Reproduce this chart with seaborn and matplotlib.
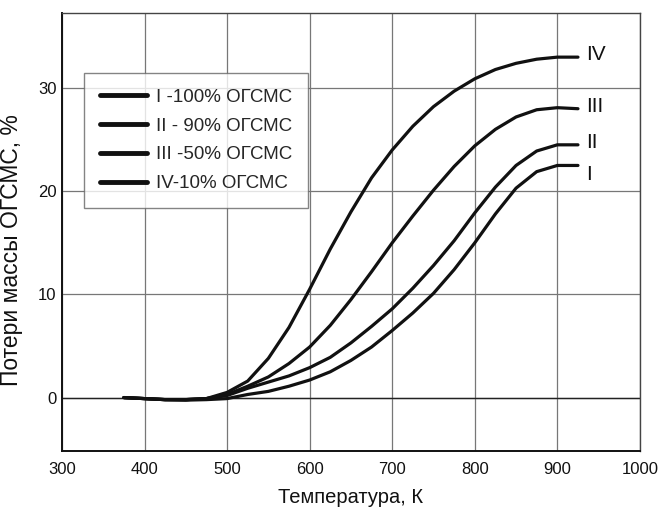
import pandas as pd
import numpy as np
import seaborn as sns
import matplotlib.pyplot as plt

# temperature, K
temp = [375, 400, 425, 450, 475, 500, 525, 550, 575, 600, 625, 650,
        675, 700, 725, 750, 775, 800, 825, 850, 875, 900, 925]

# mass loss, %
loss_I = [0.0, -0.1, -0.2, -0.25, -0.2, -0.1, 0.3, 0.6, 1.1, 1.7, 2.5, 3.6,
          4.9, 6.5, 8.2, 10.1, 12.4, 15.0, 17.8, 20.3, 21.9, 22.5, 22.5]
loss_II = [0.0, -0.1, -0.2, -0.2, -0.1, 0.2, 0.9, 1.5, 2.1, 2.9, 3.9, 5.3,
           6.9, 8.6, 10.6, 12.8, 15.2, 17.9, 20.4, 22.5, 23.9, 24.5, 24.5]
loss_III = [0.0, -0.1, -0.2, -0.2, -0.1, 0.3, 1.1, 2.0, 3.3, 4.9, 7.0, 9.5,
            12.2, 15.0, 17.6, 20.1, 22.4, 24.4, 26.0, 27.2, 27.9, 28.1, 28.0]
loss_IV = [0.0, -0.1, -0.2, -0.2, -0.1, 0.5, 1.6, 3.8, 6.8, 10.5, 14.4, 18.0,
           21.3, 24.0, 26.3, 28.2, 29.7, 30.9, 31.8, 32.4, 32.8, 33.0, 33.0]

labels = ["I -100% ОГСМС", "II - 90% ОГСМС", "III -50% ОГСМС", "IV-10% ОГСМС"]
end_marks = ["I", "II", "III", "IV"]
end_y = [21.6, 24.7, 28.2, 33.3]

df = pd.concat([
    pd.DataFrame({"T": temp, "loss": v, "sample": lab})
    for v, lab in zip([loss_I, loss_II, loss_III, loss_IV], labels)
])

sns.set_style("white")
plt.rcParams['font.family'] = ['Liberation Sans', 'DejaVu Sans']

fig = plt.figure(figsize=(6.59, 5.11), dpi=100)
ax = fig.add_axes([0.094, 0.117, 0.877, 0.858])

sns.lineplot(data=df, x="T", y="loss", hue="sample", palette=["#111111"] * 4,
             linewidth=2.3, ax=ax, sort=False, solid_joinstyle="round")

for m, y in zip(end_marks, end_y):
    ax.text(935, y, m, fontsize=15, va="center", ha="left", color="#111111")

ax.set_xlim(300, 1000)
ax.set_ylim(-5.2, 37.3)
ax.set_xticks(range(300, 1001, 100))
ax.set_yticks([0, 10, 20, 30])
ax.grid(True, color="#777777", linewidth=0.9)
ax.axhline(0, color="#222222", linewidth=1.0, zorder=1)
ax.tick_params(length=0, labelsize=12, colors="#111111")
ax.tick_params(axis="x", pad=8)
ax.tick_params(axis="y", pad=4)

for s in ["top", "right"]:
    ax.spines[s].set_color("#444444")
    ax.spines[s].set_linewidth(1.0)
for s in ["left", "bottom"]:
    ax.spines[s].set_color("#111111")
    ax.spines[s].set_linewidth(1.4)

ax.set_xlabel("Температура, К", fontsize=14.5, color="#111111", labelpad=8)
ax.set_ylabel("Потери массы ОГСМС, %", fontsize=16.5, color="#111111")
ax.yaxis.set_label_coords(-0.068, 0.459)

leg = ax.legend(loc="upper left", bbox_to_anchor=(0.038, 0.863), borderaxespad=0,
                fontsize=13.5, frameon=True, fancybox=False, edgecolor="#666666",
                handlelength=2.5, labelspacing=0.62, borderpad=0.85, handletextpad=0.5)
leg.get_frame().set_linewidth(1.0)
for h in leg.get_lines():
    h.set_linewidth(3.5)

fig.savefig("out.png", dpi=100)
